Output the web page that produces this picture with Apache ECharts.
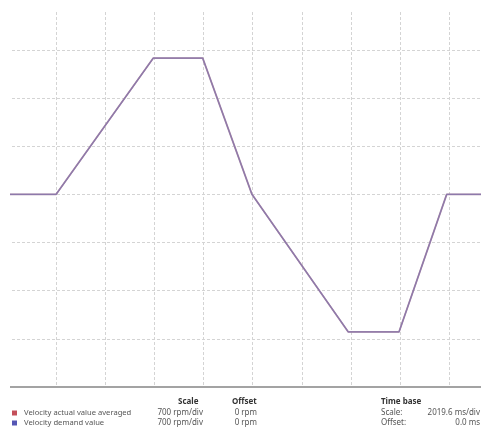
<!DOCTYPE html>
<html>
<head>
<meta charset="utf-8">
<script src="https://cdn.jsdelivr.net/npm/echarts@6/dist/echarts.min.js"></script>
<style>
  html, body { margin: 0; padding: 0; background: #fff; }
  #chart { width: 481px; height: 427px; }
</style>
</head>
<body>
<div id="chart"></div>
<script>
// time in ms, velocity in rpm
const timeMs = [123, 2020, 6015, 8045, 10070, 14030, 16115, 18075, 19486];
const actualAvg = [0, 0, 1980, 1980, 0, -2000, -2000, 0, 0];
const demand = [0, 0, 1980, 1980, 0, -2000, -2000, 0, 0];

const seriesNames = ['Velocity actual value averaged', 'Velocity demand value'];
const seriesColors = ['#c4505a', '#5556b4'];
const scaleText = ['700 rpm/div', '700 rpm/div'];
const offsetText = ['0 rpm', '0 rpm'];
const timeBaseLabels = ['Scale:', 'Offset:'];
const timeBaseValues = ['2019.6 ms/div', '0.0 ms'];

const rpmPerDiv = 700;
const msPerDiv = 2019.6;

function pairs(xs, ys) {
    return xs.map(function (x, i) { return [x, ys[i]]; });
}

const chart = echarts.init(document.getElementById('chart'));

const font = 'Noto Sans';
const labelColor = '#555';
const headColor = '#333';

function txt(x, y, text, opts) {
    opts = opts || {};
    return {
        type: 'text',
        left: opts.right == null ? x : undefined,
        right: opts.right,
        top: y,
        style: {
            text: text,
            fontFamily: font,
            fontSize: 8,
            fontWeight: opts.bold ? 'bold' : 'normal',
            fill: opts.bold ? headColor : labelColor,
            textAlign: 'left'
        }
    };
}

const graphics = [
    // the scope screen starts a little left of the first division, trim it
    {type: 'rect', left: 0, top: 0, z: 100, shape: {width: 10, height: 392}, style: {fill: '#fff'}},
    txt(178, 398, 'Scale', {bold: true}),
    txt(232, 398, 'Offset', {bold: true}),
    txt(381, 398, 'Time base', {bold: true})
];
[0, 1].forEach(function (i) {
    const y = 409 + i * 10;
    graphics.push(txt(null, y, scaleText[i], {right: 278}));
    graphics.push(txt(null, y, offsetText[i], {right: 224}));
    graphics.push(txt(381, y, timeBaseLabels[i]));
    graphics.push(txt(null, y, timeBaseValues[i], {right: 1}));
});

function legendRow(i) {
    return {
        left: 12,
        top: 409 + i * 10,
        padding: 0,
        itemWidth: 5,
        itemHeight: 5,
        icon: 'rect',
        textStyle: {fontFamily: font, fontSize: 7.6, color: labelColor, padding: [0, 0, 0, 2]},
        data: [seriesNames[i]]
    };
}

const option = {
    animation: false,
    grid: {left: 7, right: 0, top: 12, bottom: 40},
    xAxis: {
        type: 'value',
        min: 0,
        max: 19486,
        interval: msPerDiv,
        axisLine: {show: true, onZero: false, lineStyle: {color: '#a3a3a3', width: 2}},
        axisTick: {show: false},
        axisLabel: {show: false},
        splitLine: {
            show: true, showMinLine: false, showMaxLine: false,
            lineStyle: {color: '#d4d4d4', type: [3, 2], width: 1}
        }
    },
    yAxis: {
        type: 'value',
        min: -4 * rpmPerDiv,
        max: 2650,
        interval: rpmPerDiv,
        axisLine: {show: false},
        axisTick: {show: false},
        axisLabel: {show: false},
        splitLine: {
            show: true, showMinLine: false, showMaxLine: false,
            lineStyle: {color: '#d4d4d4', type: [3, 2], width: 1}
        }
    },
    legend: [legendRow(0), legendRow(1)],
    series: [
        {
            name: seriesNames[0],
            type: 'line',
            symbol: 'none',
            color: seriesColors[0],
            lineStyle: {color: '#a98aa6', width: 1.8},
            data: pairs(timeMs, actualAvg)
        },
        {
            name: seriesNames[1],
            type: 'line',
            symbol: 'none',
            color: seriesColors[1],
            lineStyle: {color: '#8876ab', width: 1.2, opacity: 0.85},
            data: pairs(timeMs, demand)
        }
    ],
    graphic: graphics
};

chart.setOption(option);
window.addEventListener('resize', function () {
    chart.resize();
});
</script>
</body>
</html>
